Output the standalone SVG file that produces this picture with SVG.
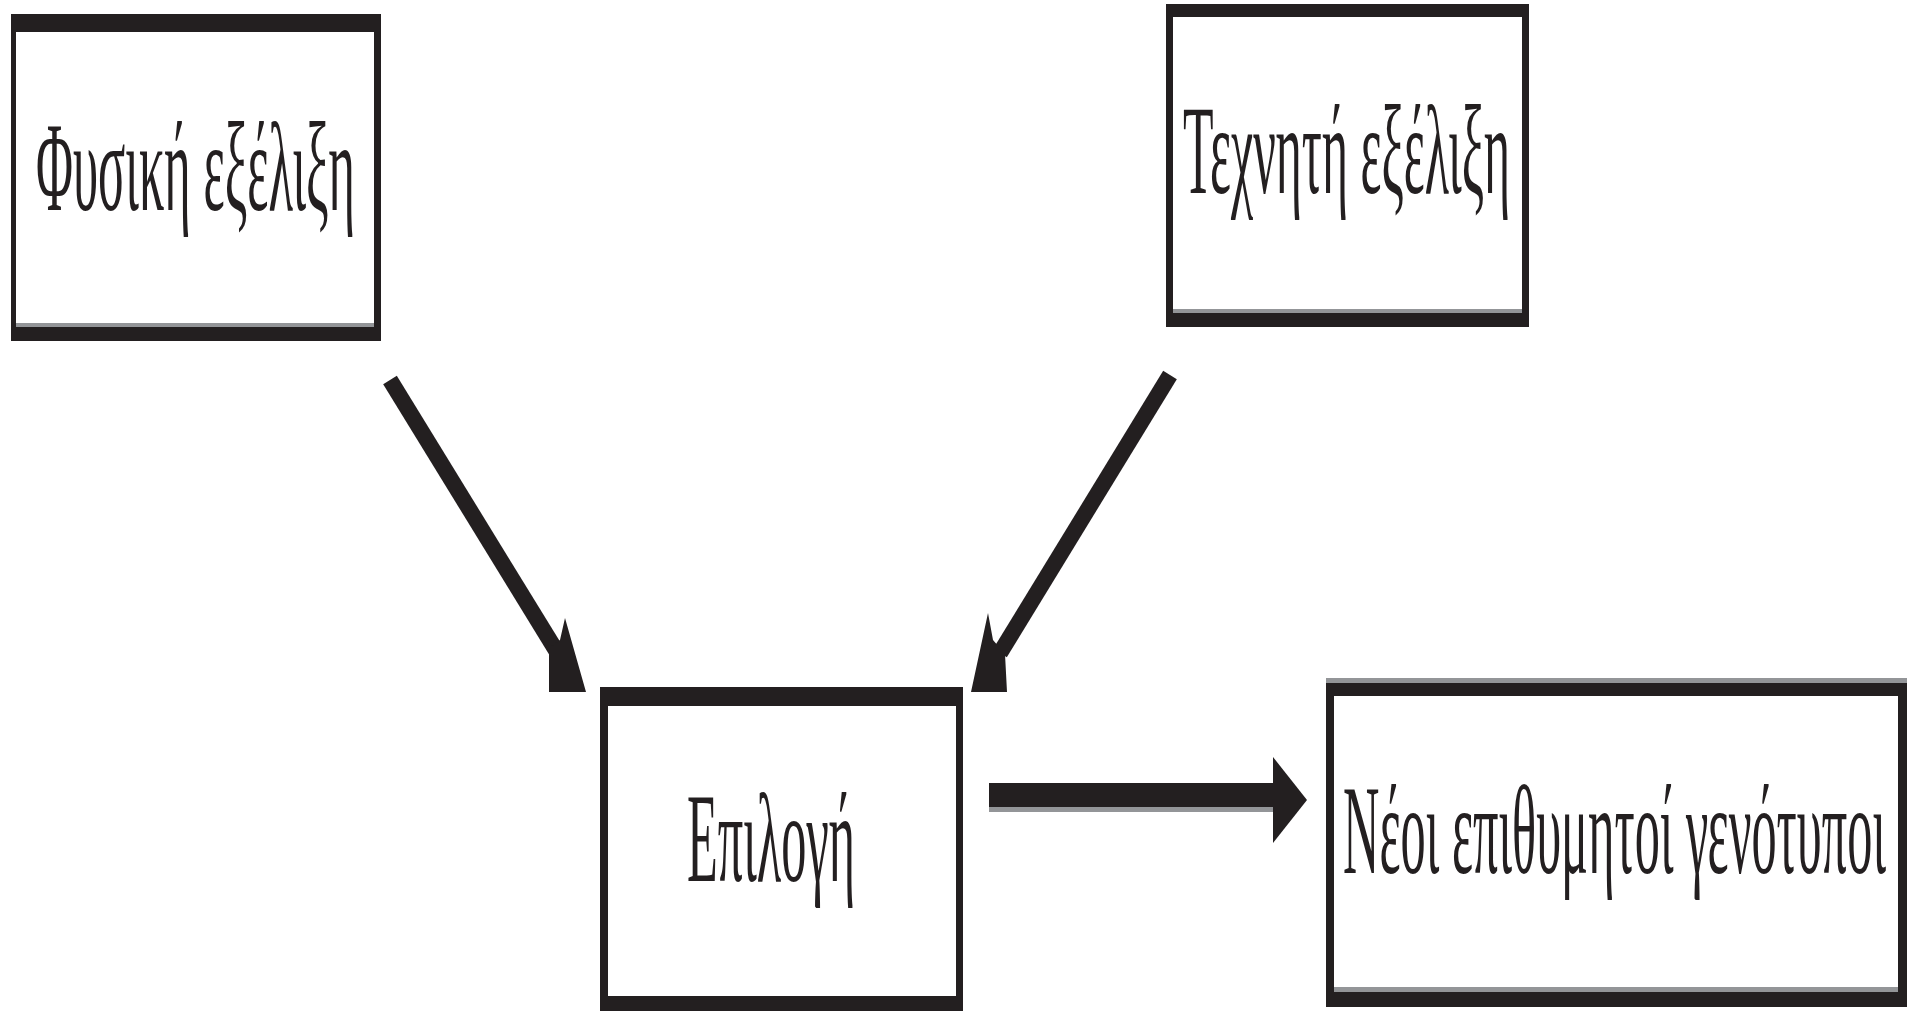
<svg xmlns="http://www.w3.org/2000/svg" width="1907" height="1011" viewBox="0 0 1907 1011">
<style>
.frame{fill:#231f20}
.inner{fill:#ffffff}
.shade{fill:#939598}
.lbl{font-family:"Liberation Serif","DejaVu Serif",serif;font-size:126px;fill:#231f20}
.shaft{stroke:#231f20;stroke-width:16;fill:none;stroke-linecap:butt}
.head{fill:#231f20}
</style>
<rect width="1907" height="1011" fill="#ffffff"/>
<g id="node-fysiki">
<rect class="frame" x="11" y="14" width="370" height="327"/>
<rect class="inner" x="16" y="32" width="358" height="291"/>
<rect class="shade" x="16" y="323" width="358" height="4"/>
<text class="lbl" x="36" y="210" textLength="319" lengthAdjust="spacingAndGlyphs">Φυσική εξέλιξη</text>
</g>
<g id="node-texniti">
<rect class="frame" x="1166" y="4" width="363" height="323"/>
<rect class="inner" x="1173" y="17" width="349" height="292"/>
<rect class="shade" x="1173" y="309" width="349" height="4"/>
<text class="lbl" x="1183" y="193" textLength="327" lengthAdjust="spacingAndGlyphs">Τεχνητή εξέλιξη</text>
</g>
<g id="node-epilogi">
<rect class="frame" x="600" y="687" width="363" height="324"/>
<rect class="inner" x="608" y="706" width="348" height="290"/>
<text class="lbl" x="687" y="881" textLength="168" lengthAdjust="spacingAndGlyphs">Επιλογή</text>
</g>
<g id="node-genotypoi">
<rect class="shade" x="1326" y="678" width="581" height="5"/>
<rect class="frame" x="1326" y="683" width="581" height="324"/>
<rect class="inner" x="1334" y="696" width="564" height="291"/>
<rect class="shade" x="1334" y="987" width="564" height="5"/>
<text class="lbl" x="1343" y="873" textLength="543" lengthAdjust="spacingAndGlyphs">Νέοι επιθυμητοί γενότυποι</text>
</g>
<g id="connectors">
<line class="shaft" x1="390" y1="380" x2="557" y2="652"/>
<polygon class="head" points="549,648 549,692 586,692 565,618 560,640"/>
<line class="shaft" x1="1170" y1="375" x2="1000" y2="653"/>
<polygon class="head" points="993,640 988,613 971,692 1007,692 1005,654"/>
<rect class="shade" x="989" y="807" width="284" height="5"/>
<rect class="frame" x="989" y="783" width="285" height="24"/>
<polygon class="head" points="1273,757 1307,800 1273,843"/>
</g>
</svg>
